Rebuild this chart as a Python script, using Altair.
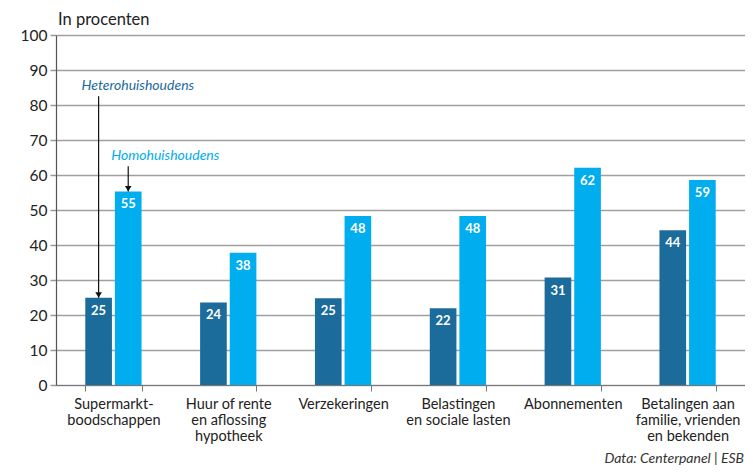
import altair as alt
import pandas as pd

categories = [
    "Supermarkt-\nboodschappen",
    "Huur of rente\nen aflossing\nhypotheek",
    "Verzekeringen",
    "Belastingen\nen sociale lasten",
    "Abonnementen",
    "Betalingen aan\nfamilie, vrienden\nen bekenden",
]
series = ["Heterohuishoudens", "Homohuishoudens"]
hetero = [24.9, 23.6, 24.8, 21.9, 30.7, 44.2]
homo = [55.3, 37.8, 48.3, 48.3, 62.1, 58.6]
colors = ["#1b6b9b", "#00adee"]
y_ticks = [0, 10, 20, 30, 40, 50, 60, 70, 80, 90, 100]

rows = []
for c, h, m in zip(categories, hetero, homo):
    rows.append({"cat": c, "serie": series[0], "value": h})
    rows.append({"cat": c, "serie": series[1], "value": m})
df = pd.DataFrame(rows)

# annotation arrows: start level above the bar -> bar top
ann = pd.DataFrame([
    {"cat": categories[0], "serie": series[0], "y0": 82.5, "y1": hetero[0], "ty": 85.5, "label": series[0]},
    {"cat": categories[0], "serie": series[1], "y0": 62.5, "y1": homo[0], "ty": 65.5, "label": series[1]},
])

W, H = 689, 350
FONT = "Lato"

x_axis = alt.Axis(title=None, labelExpr="split(datum.label, '\\n')",
                  labelAngle=0, labelFontSize=14.5, labelColor="#222",
                  labelFont=FONT, labelLineHeight=16, labelPadding=6,
                  tickBand="extent", tickSize=6, tickColor="#777",
                  domainColor="#777", domainWidth=1.2, grid=False)
x_scale = alt.Scale(paddingInner=0.51, paddingOuter=0.255)
y_axis = alt.Axis(title=None, values=y_ticks, labelFontSize=15.5,
                  labelFont=FONT, labelColor="#222", labelPadding=3,
                  tickSize=6, tickColor="#999", tickWidth=1.5,
                  gridColor="#a0a0a0", gridWidth=1.5,
                  domainColor="#555", domainWidth=1.2)
y_scale = alt.Scale(domain=[0, 100])
color_scale = alt.Scale(domain=series, range=colors)
xoff = alt.XOffset("serie:N", sort=series, scale=alt.Scale(paddingInner=0.1))


def X():
    return alt.X("cat:N", sort=categories, scale=x_scale, axis=x_axis)


def Y(field):
    return alt.Y(field, scale=y_scale, axis=y_axis)


bars = alt.Chart(df).mark_bar().encode(
    x=X(), xOffset=xoff, y=Y("value:Q"),
    color=alt.Color("serie:N", scale=color_scale, legend=None),
)

labels = alt.Chart(df).mark_text(color="white", fontWeight="bold", fontSize=13,
                                 font=FONT, baseline="middle", dy=13).encode(
    x=X(), xOffset=xoff, y=Y("value:Q"),
    text=alt.Text("value:Q", format=".0f"),
)

arrows = alt.Chart(ann).mark_rule(color="#111", strokeWidth=1.2).encode(
    x=X(), xOffset=xoff, y=Y("y0:Q"), y2="y1:Q",
)

heads = alt.Chart(ann).mark_point(
    shape="M-0.6,-1L0.6,-1L0,0Z", filled=True, color="#111", opacity=1, size=120
).encode(
    x=X(), xOffset=xoff, y=Y("y1:Q"),
)

ann_text = alt.Chart(ann).mark_text(fontStyle="italic", fontSize=14, font=FONT,
                                    align="left", baseline="middle", dx=-17).encode(
    x=X(), xOffset=xoff, y=Y("ty:Q"),
    text="label:N",
    color=alt.Color("serie:N", scale=color_scale, legend=None),
)

title_df = pd.DataFrame({"t": ["In procenten"]})
title = alt.Chart(title_df).mark_text(fontSize=16.5, font=FONT, color="#222",
                                      align="left", baseline="middle").encode(
    x=alt.value(2), y=alt.value(-15), text="t:N")

credit_df = pd.DataFrame({"t": ["Data: Centerpanel | ESB"]})
credit = alt.Chart(credit_df).mark_text(fontSize=14, font=FONT, color="#333",
                                        fontStyle="italic", align="right",
                                        baseline="middle").encode(
    x=alt.value(W - 1), y=alt.value(H + 74), text="t:N")

chart = alt.layer(bars, labels, arrows, heads, ann_text, title, credit).properties(
    width=W, height=H,
    autosize=alt.AutoSizeParams(type="none"),
    padding={"left": 48, "top": 27, "right": 0, "bottom": 82},
).configure_view(stroke=None).configure(background="white")

chart.save("out.html", embed_options={"renderer": "svg", "actions": False})
